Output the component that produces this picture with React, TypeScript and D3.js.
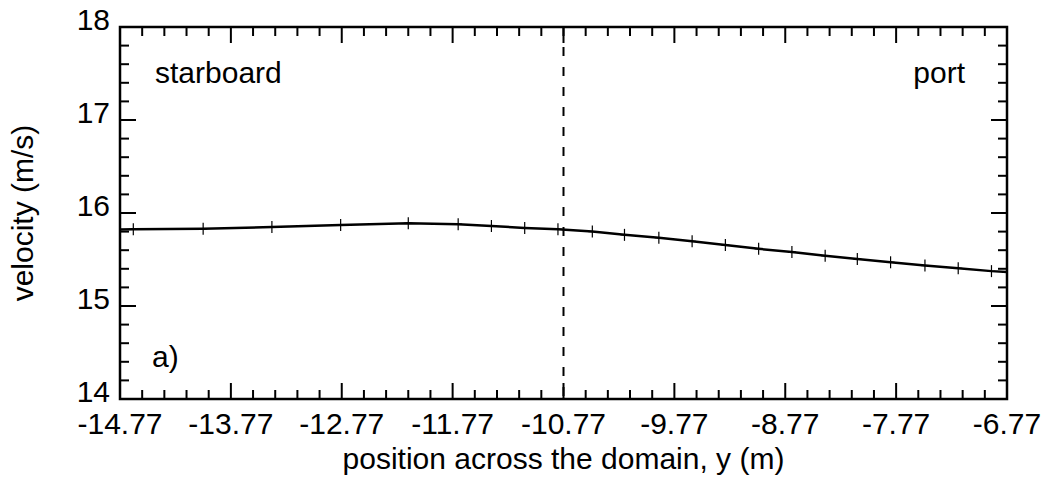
import React from "react";
import * as d3 from "d3";

// Sampled cross-domain velocity profile
const positions = [-14.65, -14.02, -13.4, -12.78, -12.17, -11.72, -11.42, -11.12, -10.82, -10.51, -10.22, -9.91, -9.61, -9.31, -9.01, -8.71, -8.41, -8.12, -7.82, -7.51, -7.21, -6.91];
const velocities = [15.825, 15.83, 15.85, 15.87, 15.89, 15.88, 15.86, 15.84, 15.825, 15.8, 15.765, 15.735, 15.695, 15.655, 15.615, 15.58, 15.54, 15.505, 15.47, 15.435, 15.405, 15.375];
// Profile values at the domain edges (line continues to the frame)
const edgePositions = [-14.77, -6.77];
const edgeVelocities = [15.822, 15.365];

const xTicks = [-14.77, -13.77, -12.77, -11.77, -10.77, -9.77, -8.77, -7.77, -6.77];
const yTicks = [14, 15, 16, 17, 18];
const centerline = -10.77;

const W = 1053;
const H = 479;
const M = { left: 120, right: 46, top: 27, bottom: 80 };
const FONT = "'Liberation Sans', Arial, Helvetica, sans-serif";

export default function App() {
  const x = d3.scaleLinear().domain([-14.77, -6.77]).range([M.left, W - M.right]);
  const y = d3.scaleLinear().domain([14, 18]).range([H - M.bottom, M.top]);
  const [x0, x1] = x.range();
  const [yb, yt] = y.range();

  const pts: [number, number][] = [
    [edgePositions[0], edgeVelocities[0]],
    ...positions.map((p, i) => [p, velocities[i]] as [number, number]),
    [edgePositions[1], edgeVelocities[1]],
  ];
  const line = d3
    .line<[number, number]>()
    .x((d) => x(d[0]))
    .y((d) => y(d[1]));

  // minor ticks every 0.2 units on both axes
  const xMinor = d3.range(0, 41).map((i) => -14.77 + i * 0.2);
  const yMinor = d3.range(0, 21).map((i) => 14 + i * 0.2);
  const isMajor = (i: number) => i % 5 === 0;

  const major = 16;
  const minor = 9;

  return (
    <svg width={W} height={H} style={{ position: "absolute", left: 0, top: 0 }}>
      <rect x={0} y={0} width={W} height={H} fill="#fff" />
      {/* ticks on all four sides, pointing inwards */}
      <g stroke="#000" strokeWidth={2}>
        {xMinor.map((v, i) => {
          const len = isMajor(i) ? major : minor;
          return (
            <g key={"xm" + i}>
              <line x1={x(v)} x2={x(v)} y1={yb} y2={yb - len} />
              <line x1={x(v)} x2={x(v)} y1={yt} y2={yt + len} />
            </g>
          );
        })}
        {yMinor.map((v, i) => {
          const len = isMajor(i) ? major : minor;
          return (
            <g key={"ym" + i}>
              <line x1={x0} x2={x0 + len} y1={y(v)} y2={y(v)} />
              <line x1={x1} x2={x1 - len} y1={y(v)} y2={y(v)} />
            </g>
          );
        })}
      </g>
      {/* dashed centreline */}
      <line
        x1={x(centerline)}
        x2={x(centerline)}
        y1={yt}
        y2={yb}
        stroke="#000"
        strokeWidth={2}
        strokeDasharray="9,11"
      />
      {/* profile */}
      <path d={line(pts) || ""} fill="none" stroke="#000" strokeWidth={2.5} />
      <g stroke="#000" strokeWidth={1.2}>
        {positions.map((p, i) => (
          <g key={"p" + i}>
            <line x1={x(p)} x2={x(p)} y1={y(velocities[i]) - 6} y2={y(velocities[i]) + 6} />
            <line x1={x(p) - 4} x2={x(p) + 4} y1={y(velocities[i])} y2={y(velocities[i])} />
          </g>
        ))}
      </g>
      <rect x={x0} y={yt} width={x1 - x0} height={yb - yt} fill="none" stroke="#000" strokeWidth={2.5} />

      {/* tick labels */}
      <g fontFamily={FONT} fontSize={30} fill="#000">
        {xTicks.map((v) => (
          <text key={"xl" + v} x={x(v)} y={yb + 35} textAnchor="middle">
            {v.toFixed(2)}
          </text>
        ))}
        {yTicks.map((v) => (
          <text key={"yl" + v} x={x0 - 10} y={y(v) + 3} textAnchor="end">
            {v}
          </text>
        ))}
      </g>

      {/* axis titles */}
      <text x={(x0 + x1) / 2} y={yb + 70} textAnchor="middle" fontFamily={FONT} fontSize={30}>
        position across the domain, y (m)
      </text>
      <text
        transform={`translate(33,${(yt + yb) / 2}) rotate(-90)`}
        textAnchor="middle"
        fontFamily={FONT}
        fontSize={30}
      >
        velocity (m/s)
      </text>

      {/* annotations */}
      <g fontFamily={FONT} fontSize={30} fill="#000">
        <text x={155} y={83}>starboard</text>
        <text x={x1 - 42} y={83} textAnchor="end">port</text>
        <text x={152} y={367}>a)</text>
      </g>
    </svg>
  );
}
